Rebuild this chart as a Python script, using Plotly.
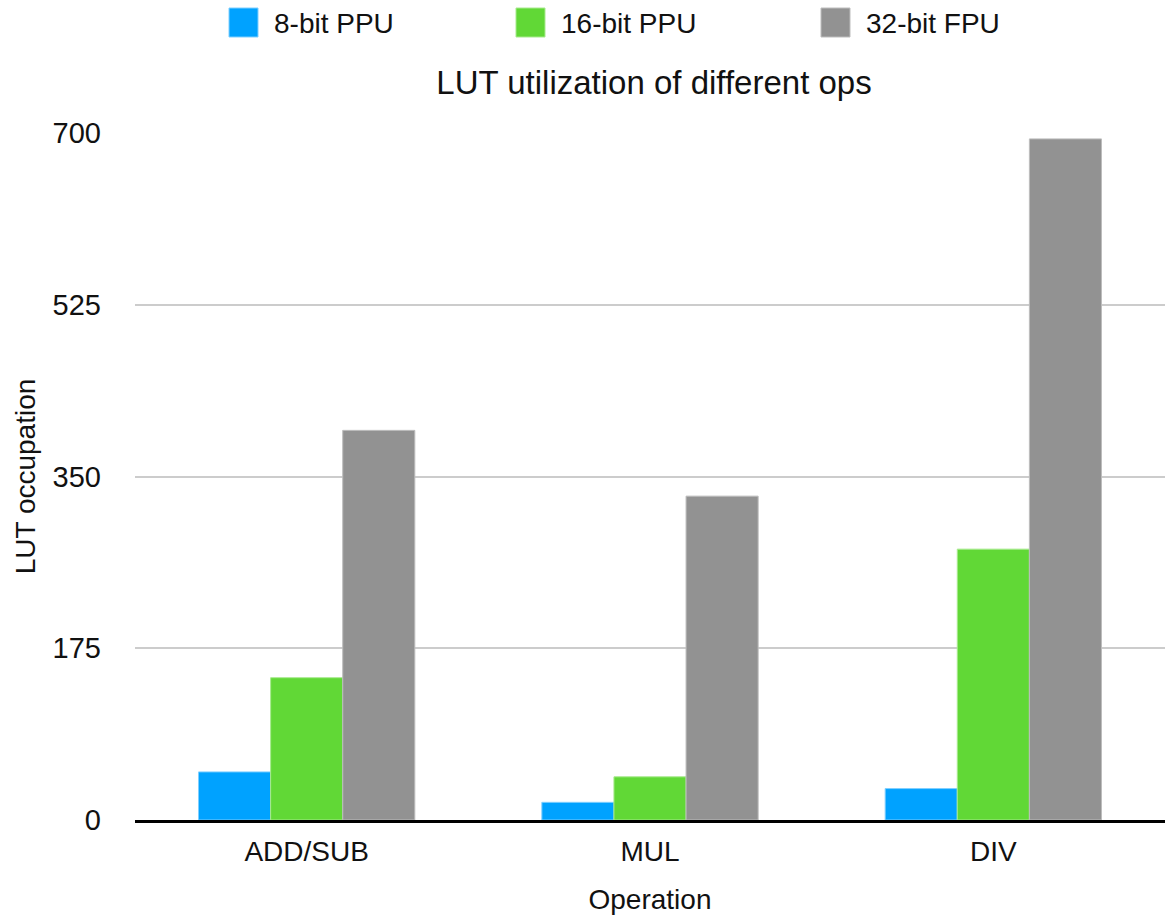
import plotly.graph_objects as go

# LUT occupation per operation for each arithmetic unit
operations = ["ADD/SUB", "MUL", "DIV"]
series_names = ["8-bit PPU", "16-bit PPU", "32-bit FPU"]
ppu8_luts = [49, 18, 32]
ppu16_luts = [145, 44, 276]
fpu32_luts = [397, 330, 694]
y_ticks = [0, 175, 350, 525, 700]

colors = ["#00A2FF", "#61D836", "#929292"]
edge_colors = ["#7FCFFF", "#A8EA8E", "#BDBDBD"]
FONT = "Liberation Sans, Helvetica, Arial, sans-serif"
TEXT = "#111111"

fig = go.Figure()
for name, vals, c, ec in zip(series_names, [ppu8_luts, ppu16_luts, fpu32_luts], colors, edge_colors):
    fig.add_trace(go.Bar(
        x=operations, y=vals, name=name,
        marker=dict(color=c, line=dict(color=ec, width=1)),
        showlegend=False,
    ))

# Legend row drawn as coloured keys with labels across the top
legend_x = [229, 516, 821]
W, H = 1165, 917
PL, PT, PB = 135, 133, 820
for name, c, ec, lx in zip(series_names, colors, edge_colors, legend_x):
    fig.add_shape(type="rect", xref="paper", yref="paper",
                  x0=(lx - PL) / (W - PL), x1=(lx + 29 - PL) / (W - PL),
                  y0=(PB - 37) / (PB - PT), y1=(PB - 8) / (PB - PT),
                  fillcolor=c, line=dict(color=ec, width=1))
    fig.add_annotation(text=name, xref="paper", yref="paper",
                       x=(lx + 43 - PL) / (W - PL), y=(PB - 23) / (PB - PT),
                       xanchor="left", yanchor="middle", showarrow=False,
                       font=dict(size=28, color=TEXT, family=FONT))

fig.update_layout(
    width=W, height=H,
    margin=dict(l=PL, r=0, t=PT, b=H - PB),
    paper_bgcolor="white", plot_bgcolor="white",
    barmode="group", bargap=0.37, bargroupgap=0,
    font=dict(family=FONT, color=TEXT, size=28),
    title=dict(text="LUT utilization of different ops", x=654 / W, xanchor="center",
               y=1 - 82 / H, yanchor="middle", font=dict(size=33, color=TEXT)),
    xaxis=dict(showgrid=False, showline=True, linecolor="black", linewidth=3,
               ticks="", ticklabelstandoff=4, tickfont=dict(size=28),
               title=dict(text="Operation", font=dict(size=28), standoff=24)),
    yaxis=dict(range=[0, 700], tickvals=y_ticks, showgrid=True, gridcolor="#CCCCCC",
               gridwidth=1.5, zeroline=False, ticks="", ticklabelstandoff=33,
               tickfont=dict(size=29),
               title=dict(text="LUT occupation", font=dict(size=28), standoff=8)),
)

fig.write_html("out.html")
